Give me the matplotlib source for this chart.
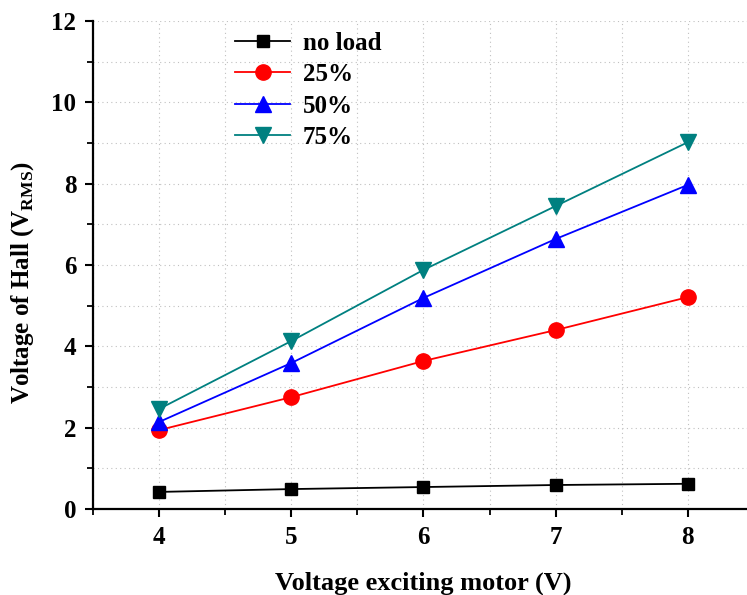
import matplotlib
matplotlib.use("Agg")
import matplotlib.pyplot as plt
from matplotlib.ticker import MultipleLocator

x = [4, 5, 6, 7, 8]
no_load = [0.42, 0.49, 0.54, 0.59, 0.62]
load25 = [1.94, 2.75, 3.64, 4.40, 5.21]
load50 = [2.14, 3.59, 5.19, 6.64, 7.97]
load75 = [2.46, 4.13, 5.88, 7.45, 9.02]
labels = ["no load", "25%", "50%", "75%"]

plt.rcParams['font.family'] = ['Liberation Serif', 'DejaVu Serif']
plt.rcParams['font.weight'] = 'bold'
plt.rcParams['mathtext.fontset'] = 'custom'
plt.rcParams['mathtext.rm'] = 'Liberation Serif:bold'
plt.rcParams['mathtext.bf'] = 'Liberation Serif:bold'

fig = plt.figure(figsize=(7.47, 5.95), dpi=100)
ax = fig.add_axes([93/747, 86/595, 661/747, 488/595])

series = [(no_load, 'black', 's', 9),
          (load25, '#ff0000', 'o', 11),
          (load50, '#0000ff', '^', 11),
          (load75, '#008080', 'v', 11)]
for (vals, c, m, ms), lab in zip(series, labels):
    ax.plot(x, vals, color=c, marker=m, markersize=ms, linewidth=1.3, label=lab)

ax.set_xlim(3.5, 8.5)
ax.set_ylim(0, 12)
ax.xaxis.set_major_locator(MultipleLocator(1))
ax.xaxis.set_minor_locator(MultipleLocator(0.5))
ax.yaxis.set_major_locator(MultipleLocator(2))
ax.yaxis.set_minor_locator(MultipleLocator(1))
ax.grid(True, which='both', linestyle=(0, (1, 3)), color='#c0c0c0', linewidth=0.8)
ax.set_axisbelow(True)
for s in ['top', 'right']:
    ax.spines[s].set_visible(False)
for s in ['left', 'bottom']:
    ax.spines[s].set_linewidth(1.6)
ax.tick_params(which='major', direction='out', length=6, width=1.5, labelsize=18, pad=6)
ax.tick_params(which='minor', direction='out', length=4, width=1.3)
for t in ax.get_xticklabels() + ax.get_yticklabels():
    t.set_fontweight('bold')

ax.set_xlabel('Voltage exciting motor (V)', fontsize=19, fontweight='bold')
ax.xaxis.set_label_coords(0.5, -0.128)
ax.set_ylabel(r'Voltage of Hall (V$_{\mathbf{RMS}}$)', fontsize=18, fontweight='bold')
ax.yaxis.set_label_coords(-0.086, 0.463)

leg = ax.legend(loc='upper left', bbox_to_anchor=(0.215, 0.978), frameon=False,
                borderaxespad=0, borderpad=0,
                prop={'family': 'Liberation Serif', 'weight': 'bold', 'size': 18},
                handlelength=2.2, labelspacing=0.34, handletextpad=0.5)

fig.savefig('out.png', dpi=100)
